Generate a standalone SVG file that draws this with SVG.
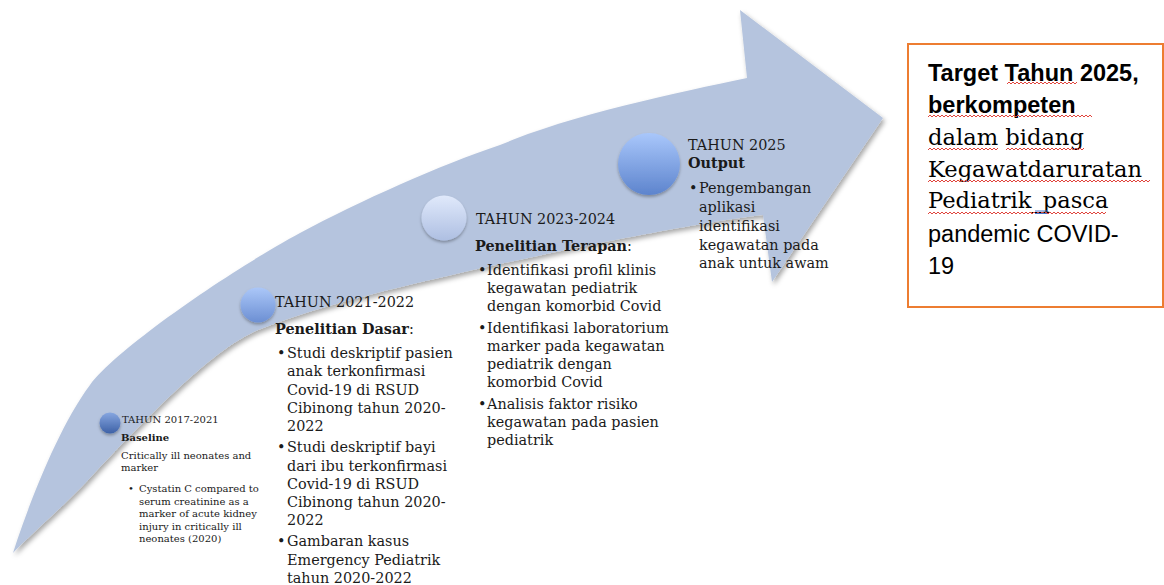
<svg xmlns="http://www.w3.org/2000/svg" width="1164" height="585" viewBox="0 0 1164 585">
<style>
  .t { font-family: "DejaVu Serif", "Liberation Serif", serif; fill: #1a1a1a; }
  .s { font-size: 10px; }
  .m { font-size: 14.4px; }
  .b { font-weight: bold; }
  .sans { font-family: "Liberation Sans", Arial, sans-serif; fill: #000; font-size: 23.5px; }
  .serifL { font-family: "DejaVu Serif", "Liberation Serif", serif; fill: #000; font-size: 22.6px; }
  .sq { fill: none; stroke: #e0443c; stroke-width: 1; }
</style>
<defs>
  <filter id="sh" x="-10%" y="-10%" width="120%" height="120%">
    <feDropShadow dx="2" dy="3" stdDeviation="2.5" flood-color="#000" flood-opacity="0.35"/>
  </filter>
  <filter id="csh" x="-30%" y="-30%" width="160%" height="160%">
    <feDropShadow dx="0" dy="2" stdDeviation="1.5" flood-color="#000" flood-opacity="0.3"/>
  </filter>
  <linearGradient id="g1" x1="0" y1="0" x2="0" y2="1">
    <stop offset="0" stop-color="#86a6e0"/><stop offset="1" stop-color="#3d61a6"/>
  </linearGradient>
  <linearGradient id="g2" x1="0" y1="0" x2="0" y2="1">
    <stop offset="0" stop-color="#abc7f8"/><stop offset="1" stop-color="#6c8fd3"/>
  </linearGradient>
  <linearGradient id="g3" x1="0" y1="0" x2="0" y2="1">
    <stop offset="0" stop-color="#e0e9fb"/><stop offset="1" stop-color="#aebfe2"/>
  </linearGradient>
  <linearGradient id="g4" x1="0" y1="0" x2="0" y2="1">
    <stop offset="0" stop-color="#a9c7fb"/><stop offset="1" stop-color="#5d84cd"/>
  </linearGradient>
</defs>
<rect width="1164" height="585" fill="#fff"/>

<g id="arrow">
  <path filter="url(#sh)" fill="#b5c4de" d="M13,553 C30,500 60,425 90,385 C120,345 240,265 300,233 C360,201 440,165 500,145 C570,115 680,92 747,78 L740,10 L883,118 L772,282 L763,215 C700,222 560,250 460,273 C400,287 320,305 258,330 C210,350 140,425 90,478 C65,505 30,535 13,553 Z"/>
</g>

<g id="connectors"></g>

<g id="node-2017">
  <circle cx="110" cy="423" r="10.5" fill="url(#g1)" filter="url(#csh)"/>
  <text class="t s" x="122" y="423">TAHUN 2017-2021</text>
  <text class="t s b" x="121" y="441">Baseline</text>
  <text class="t s" x="121" y="459">Critically ill neonates and</text>
  <text class="t s" x="121" y="471">marker</text>
  <text class="t s" x="128" y="492">•</text>
  <text class="t s" x="139" y="492">Cystatin C compared to</text>
  <text class="t s" x="139" y="505">serum creatinine as a</text>
  <text class="t s" x="139" y="517">marker of acute kidney</text>
  <text class="t s" x="139" y="530">injury in critically ill</text>
  <text class="t s" x="139" y="542">neonates (2020)</text>
</g>

<g id="node-2021">
  <circle cx="258" cy="305" r="17.5" fill="url(#g2)" filter="url(#csh)"/>
  <text class="t m" x="275" y="307">TAHUN 2021-2022</text>
  <text class="t m" x="275" y="334"><tspan class="b">Penelitian Dasar</tspan>:</text>
  <text class="t m" x="277" y="358">•</text>
  <text class="t m" x="287" y="358">Studi deskriptif pasien</text>
  <text class="t m" x="287" y="376.3">anak terkonfirmasi</text>
  <text class="t m" x="287" y="394.6">Covid-19 di RSUD</text>
  <text class="t m" x="287" y="412.9">Cibinong tahun 2020-</text>
  <text class="t m" x="287" y="431.2">2022</text>
  <text class="t m" x="277" y="452.2">•</text>
  <text class="t m" x="287" y="452.2">Studi deskriptif bayi</text>
  <text class="t m" x="287" y="470.5">dari ibu terkonfirmasi</text>
  <text class="t m" x="287" y="488.8">Covid-19 di RSUD</text>
  <text class="t m" x="287" y="507.1">Cibinong tahun 2020-</text>
  <text class="t m" x="287" y="525.4">2022</text>
  <text class="t m" x="277" y="546.4">•</text>
  <text class="t m" x="287" y="546.4">Gambaran kasus</text>
  <text class="t m" x="287" y="564.7">Emergency Pediatrik</text>
  <text class="t m" x="287" y="583">tahun 2020-2022</text>
</g>

<g id="node-2023">
  <circle cx="444" cy="218" r="22.5" fill="url(#g3)" filter="url(#csh)"/>
  <text class="t m" x="476" y="224">TAHUN 2023-2024</text>
  <text class="t m" x="475" y="251"><tspan class="b">Penelitian Terapan</tspan>:</text>
  <text class="t m" x="478" y="275">•</text>
  <text class="t m" x="487" y="275">Identifikasi profil klinis</text>
  <text class="t m" x="487" y="293">kegawatan pediatrik</text>
  <text class="t m" x="487" y="311">dengan komorbid Covid</text>
  <text class="t m" x="478" y="333">•</text>
  <text class="t m" x="487" y="333">Identifikasi laboratorium</text>
  <text class="t m" x="487" y="351">marker pada kegawatan</text>
  <text class="t m" x="487" y="369">pediatrik dengan</text>
  <text class="t m" x="487" y="387">komorbid Covid</text>
  <text class="t m" x="478" y="409">•</text>
  <text class="t m" x="487" y="409">Analisis faktor risiko</text>
  <text class="t m" x="487" y="427">kegawatan pada pasien</text>
  <text class="t m" x="487" y="445">pediatrik</text>
</g>

<g id="node-2025">
  <circle cx="649" cy="164" r="31" fill="url(#g4)" filter="url(#csh)"/>
  <text class="t m" x="688" y="150">TAHUN 2025</text>
  <text class="t m b" x="688" y="168">Output</text>
  <text class="t m" x="689" y="193">•</text>
  <text class="t m" x="699" y="193">Pengembangan</text>
  <text class="t m" x="699" y="212">aplikasi</text>
  <text class="t m" x="699" y="231">identifikasi</text>
  <text class="t m" x="699" y="250">kegawatan pada</text>
  <text class="t m" x="699" y="268">anak untuk awam</text>
</g>

<g id="target">
  <rect x="908" y="44" width="255" height="263" fill="#fff" stroke="#ed7d31" stroke-width="2"/>
  <text class="sans b" x="928" y="81">Target Tahun 2025,</text>
  <text class="sans b" x="928" y="113">berkompeten</text>
  <text class="serifL" x="928" y="145">dalam bidang</text>
  <text class="serifL" x="928" y="177">Kegawatdaruratan</text>
  <text class="serifL" x="928" y="208">Pediatrik_pasca</text>
  <text class="sans" x="928" y="242">pandemic COVID-</text>
  <text class="sans" x="928" y="274">19</text>
  <path class="sq" d="M1007,84 l2,-2 l2,2 l2,-2 l2,2 l2,-2 l2,2 l2,-2 l2,2 l2,-2 l2,2 l2,-2 l2,2 l2,-2 l2,2 l2,-2 l2,2 l2,-2 l2,2 l2,-2 l2,2 l2,-2 l2,2 l2,-2 l2,2 l2,-2 l2,2 l2,-2 l2,2 l2,-2 l2,2 l2,-2 l2,2 l2,-2 l2,2 l2,-2"/>
  <path class="sq" d="M928,117 l2,-2 l2,2 l2,-2 l2,2 l2,-2 l2,2 l2,-2 l2,2 l2,-2 l2,2 l2,-2 l2,2 l2,-2 l2,2 l2,-2 l2,2 l2,-2 l2,2 l2,-2 l2,2 l2,-2 l2,2 l2,-2 l2,2 l2,-2 l2,2 l2,-2 l2,2 l2,-2 l2,2 l2,-2 l2,2 l2,-2 l2,2 l2,-2 l2,2 l2,-2 l2,2 l2,-2 l2,2 l2,-2 l2,2 l2,-2 l2,2 l2,-2 l2,2 l2,-2 l2,2 l2,-2 l2,2 l2,-2 l2,2 l2,-2 l2,2 l2,-2 l2,2 l2,-2 l2,2 l2,-2 l2,2 l2,-2 l2,2 l2,-2 l2,2 l2,-2 l2,2 l2,-2 l2,2 l2,-2 l2,2 l2,-2 l2,2 l2,-2 l2,2 l2,-2 l2,2 l2,-2 l2,2 l2,-2 l2,2 l2,-2 l2,2"/>
  <path class="sq" d="M928,150 l2,-2 l2,2 l2,-2 l2,2 l2,-2 l2,2 l2,-2 l2,2 l2,-2 l2,2 l2,-2 l2,2 l2,-2 l2,2 l2,-2 l2,2 l2,-2 l2,2 l2,-2 l2,2 l2,-2 l2,2 l2,-2 l2,2 l2,-2 l2,2 l2,-2 l2,2 l2,-2 l2,2 l2,-2 l2,2 l2,-2 l2,2 l2,-2"/>
  <path class="sq" d="M1006,150 l2,-2 l2,2 l2,-2 l2,2 l2,-2 l2,2 l2,-2 l2,2 l2,-2 l2,2 l2,-2 l2,2 l2,-2 l2,2 l2,-2 l2,2 l2,-2 l2,2 l2,-2 l2,2 l2,-2 l2,2 l2,-2 l2,2 l2,-2 l2,2 l2,-2 l2,2 l2,-2 l2,2 l2,-2 l2,2 l2,-2 l2,2 l2,-2 l2,2 l2,-2 l2,2 l2,-2"/>
  <path class="sq" d="M928,182 l2,-2 l2,2 l2,-2 l2,2 l2,-2 l2,2 l2,-2 l2,2 l2,-2 l2,2 l2,-2 l2,2 l2,-2 l2,2 l2,-2 l2,2 l2,-2 l2,2 l2,-2 l2,2 l2,-2 l2,2 l2,-2 l2,2 l2,-2 l2,2 l2,-2 l2,2 l2,-2 l2,2 l2,-2 l2,2 l2,-2 l2,2 l2,-2 l2,2 l2,-2 l2,2 l2,-2 l2,2 l2,-2 l2,2 l2,-2 l2,2 l2,-2 l2,2 l2,-2 l2,2 l2,-2 l2,2 l2,-2 l2,2 l2,-2 l2,2 l2,-2 l2,2 l2,-2 l2,2 l2,-2 l2,2 l2,-2 l2,2 l2,-2 l2,2 l2,-2 l2,2 l2,-2 l2,2 l2,-2 l2,2 l2,-2 l2,2 l2,-2 l2,2 l2,-2 l2,2 l2,-2 l2,2 l2,-2 l2,2 l2,-2 l2,2 l2,-2 l2,2 l2,-2 l2,2 l2,-2 l2,2 l2,-2 l2,2 l2,-2 l2,2 l2,-2 l2,2 l2,-2 l2,2 l2,-2 l2,2 l2,-2 l2,2 l2,-2 l2,2 l2,-2 l2,2 l2,-2 l2,2 l2,-2 l2,2 l2,-2 l2,2 l2,-2"/>
  <path class="sq" d="M928,214 l2,-2 l2,2 l2,-2 l2,2 l2,-2 l2,2 l2,-2 l2,2 l2,-2 l2,2 l2,-2 l2,2 l2,-2 l2,2 l2,-2 l2,2 l2,-2 l2,2 l2,-2 l2,2 l2,-2 l2,2 l2,-2 l2,2 l2,-2 l2,2 l2,-2 l2,2 l2,-2 l2,2 l2,-2 l2,2 l2,-2 l2,2 l2,-2 l2,2 l2,-2 l2,2 l2,-2 l2,2 l2,-2 l2,2 l2,-2 l2,2 l2,-2 l2,2 l2,-2 l2,2 l2,-2 l2,2 l2,-2 l2,2 l2,-2 l2,2 l2,-2 l2,2 l2,-2 l2,2 l2,-2 l2,2 l2,-2 l2,2 l2,-2 l2,2 l2,-2 l2,2 l2,-2 l2,2 l2,-2 l2,2 l2,-2 l2,2 l2,-2 l2,2 l2,-2 l2,2 l2,-2 l2,2 l2,-2 l2,2 l2,-2 l2,2 l2,-2 l2,2 l2,-2 l2,2 l2,-2 l2,2 l2,-2"/>
  <path d="M1035,211 h12 M1035,213.5 h12" stroke="#4a72c8" stroke-width="1" fill="none"/>
</g>
</svg>
